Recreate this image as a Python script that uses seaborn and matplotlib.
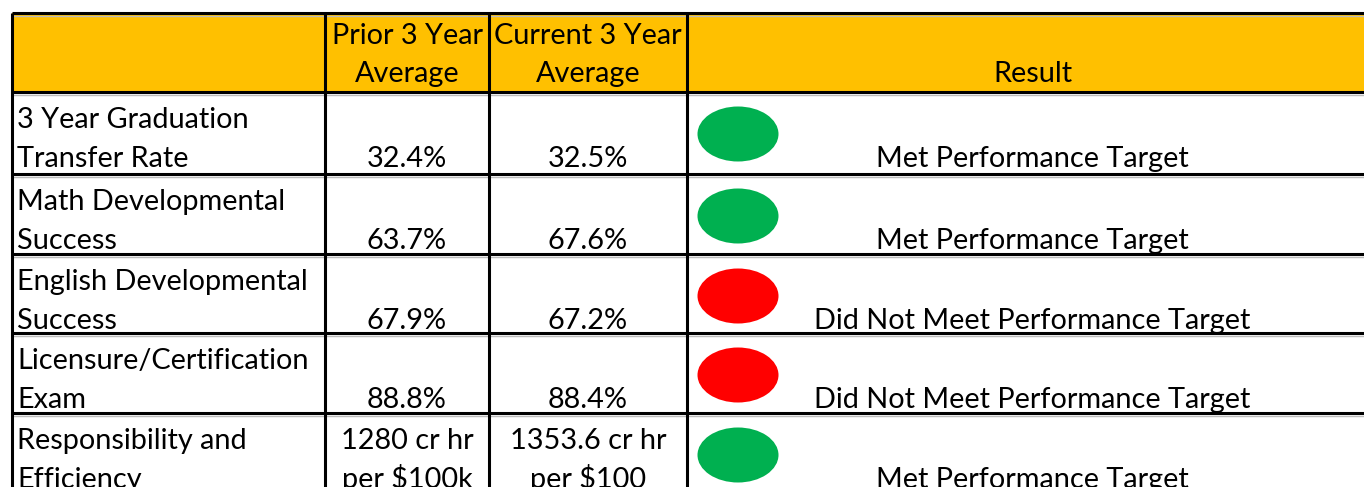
import matplotlib
matplotlib.use("Agg")
import matplotlib.pyplot as plt
from matplotlib.patches import Ellipse, Rectangle
import seaborn as sns

sns.set_theme(style="white")
plt.rcParams['font.family'] = ['Lato', 'DejaVu Sans']

# ---- data ----
headers = ["", "Prior 3 Year\nAverage", "Current 3 Year\nAverage", "Result"]
metrics = ["3 Year Graduation\nTransfer Rate",
           "Math Developmental\nSuccess",
           "English Developmental\nSuccess",
           "Licensure/Certification\nExam",
           "Responsibility and\nEfficiency"]
prior = ["32.4%", "63.7%", "67.9%", "88.8%", "1280 cr hr\nper $100k"]
current = ["32.5%", "67.6%", "67.2%", "88.4%", "1353.6 cr hr\nper $100"]
met_target = [True, True, False, False, True]
result_text = {True: "Met Performance Target", False: "Did Not Meet Performance Target"}
status_color = {True: "#00B050", False: "#FF0000"}
header_color = "#FFC000"

# ---- layout (pixel grid) ----
W, H = 1364, 487
col_edges = [12, 325, 489, 687, 1378]
row_edges = [13, 92, 174, 254, 333, 413, 493]
FS = 20.8


def put_lines(text, x, top, ha, l1=36, l2=75):
    lines = text.split("\n")
    bases = [top + l2] if len(lines) == 1 else [top + l1, top + l2]
    for ln, b in zip(lines, bases):
        ax.text(x, b, ln, ha=ha, va="baseline", fontsize=FS, color="black", zorder=3)


fig = plt.figure(figsize=(W / 100, H / 100), dpi=100)
ax = fig.add_axes([0, 0, 1, 1])
ax.set_xlim(0, W)
ax.set_ylim(H, 0)
ax.axis("off")

# header background
ax.add_patch(Rectangle((col_edges[0], row_edges[0]), col_edges[-1] - col_edges[0],
                       row_edges[1] - row_edges[0], facecolor=header_color, edgecolor="none", zorder=0))

# header text
for j, h in enumerate(headers):
    if not h:
        continue
    cx = (col_edges[j] + col_edges[j + 1]) / 2
    put_lines(h, cx, row_edges[0], "center", l1=31, l2=69)

# body rows
for i in range(len(metrics)):
    top = row_edges[i + 1]
    put_lines(metrics[i], col_edges[0] + 5, top, "left")
    put_lines(prior[i], (col_edges[1] + col_edges[2]) / 2, top, "center")
    put_lines(current[i], (col_edges[2] + col_edges[3]) / 2, top, "center")
    ax.add_patch(Ellipse((col_edges[3] + 51, top + 42), 81, 55,
                         facecolor=status_color[met_target[i]], edgecolor="none", zorder=2))
    ax.text((col_edges[3] + col_edges[4]) / 2, top + 75, result_text[met_target[i]],
            ha="center", va="baseline", fontsize=FS, color="black", zorder=3)

# grid lines
for y in row_edges:
    ax.plot([col_edges[0], col_edges[-1]], [y + 2.5, y + 2.5], color="#BBBBBB", lw=1, zorder=3)
    ax.plot([col_edges[0], col_edges[-1]], [y, y], color="black", lw=2.2, zorder=4,
            solid_capstyle="butt")
for x in col_edges:
    ax.plot([x, x], [row_edges[0], row_edges[-1]], color="black", lw=2.2, zorder=4,
            solid_capstyle="butt")

fig.savefig("out.png", dpi=100, facecolor="white")
